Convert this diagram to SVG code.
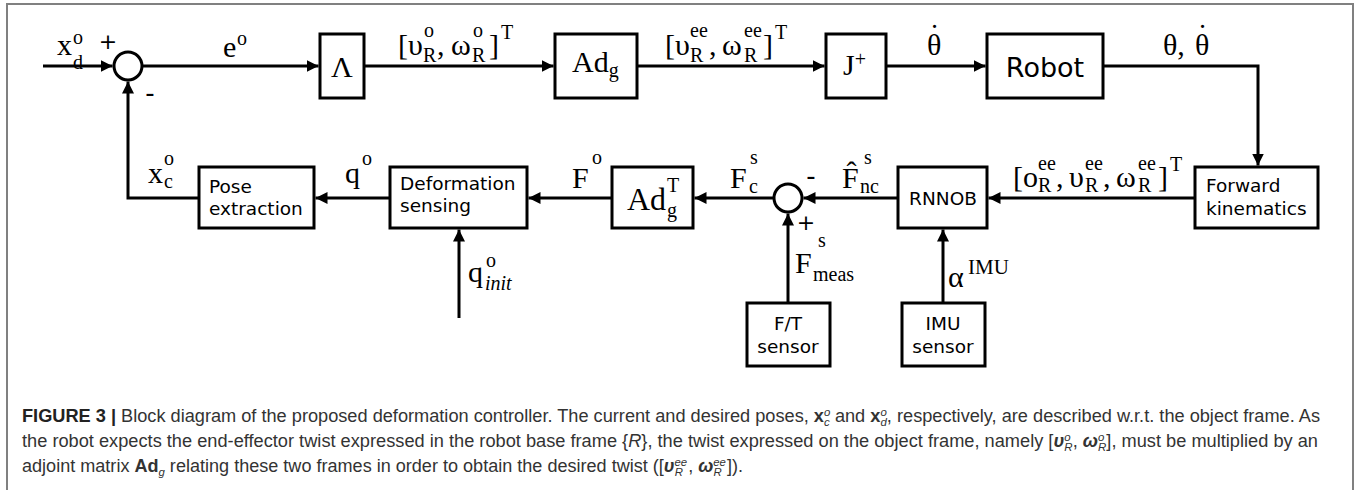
<svg xmlns="http://www.w3.org/2000/svg" width="1362" height="490" viewBox="0 0 1362 490">
<style>
.ln{stroke:#000;stroke-width:3;fill:none}
.bx{fill:#fff;stroke:#000;stroke-width:3}
.m{font-family:"Liberation Serif","DejaVu Serif",serif;font-size:30px;fill:#000}
.s{font-size:20px}
.mb{font-size:30px}
.t{font-family:"DejaVu Sans","Liberation Sans",sans-serif;font-size:18.5px;fill:#000}
.tb{font-size:27px}
.sg{font-family:"DejaVu Sans","Liberation Sans",sans-serif;font-size:22px;fill:#000}
.mn{font-size:26px}
.cap{font-family:"Liberation Sans",Arial,sans-serif;font-size:17.5px;fill:#333}
.cs{font-size:11px;font-style:italic}
</style>
<defs>
<marker id="ah" markerWidth="12" markerHeight="12" refX="12" refY="6" orient="auto" markerUnits="userSpaceOnUse"><path d="M0,0 L12,6 L0,12 z" fill="#000"/></marker>
</defs>
<rect width="1362" height="490" fill="#fff"/>
<path d="M7,490 V4 H1353 V490" fill="none" stroke="#808080" stroke-width="2"/>

<g id="connectors" class="ln" marker-end="url(#ah)">
<path d="M43,66 H112.5"/>
<path d="M142,66 H318.5"/>
<path d="M364,66 H553.5"/>
<path d="M637,66 H824.5"/>
<path d="M886,66 H985.5"/>
<path d="M1103,66 H1258 V165.5"/>
<path d="M1195,198 H988.5"/>
<path d="M898,198 H803.5"/>
<path d="M774,198 H694.5"/>
<path d="M612,198 H528.5"/>
<path d="M390,198 H315.5"/>
<path d="M199,198 H128 V81.5"/>
<path d="M459,318 V229.5"/>
<path d="M788,303 V213.5"/>
<path d="M943,303 V229.5"/>
</g>

<g id="sum1"><circle cx="128" cy="66" r="14" class="bx"/></g>
<g id="sum2"><circle cx="788" cy="198" r="14" class="bx"/></g>

<g id="lambda"><rect x="320" y="34" width="44" height="64" class="bx"/><text class="m mb" x="342" y="77" text-anchor="middle">Λ</text></g>
<g id="adg"><rect x="555" y="34" width="82" height="64" class="bx"/><text class="m mb" x="572" y="72">Ad<tspan class="s" dy="5">g</tspan></text></g>
<g id="jplus"><rect x="826" y="34" width="60" height="64" class="bx"/><text class="m mb" x="843" y="75">J<tspan class="s" dy="-9">+</tspan></text></g>
<g id="robot"><rect x="987" y="34" width="116" height="64" class="bx"/><text class="t tb" x="1045" y="77" text-anchor="middle">Robot</text></g>
<g id="fk"><rect x="1195" y="167" width="123" height="61" class="bx"/><text class="t" x="1206" y="192">Forward</text><text class="t" x="1206" y="215">kinematics</text></g>
<g id="rnnob"><rect x="898" y="167" width="89" height="61" class="bx"/><text class="t" x="943" y="205" text-anchor="middle">RNNOB</text></g>
<g id="adgT"><rect x="612" y="167" width="81" height="61" class="bx"/><text class="m" style="font-size:32px" x="627" y="210">Ad</text><text class="m s" x="667" y="217">g</text><text class="m s" x="667" y="192">T</text></g>
<g id="deform"><rect x="390" y="167" width="137" height="61" class="bx"/><text class="t" x="400" y="190">Deformation</text><text class="t" x="400" y="212">sensing</text></g>
<g id="pose"><rect x="199" y="167" width="115" height="61" class="bx"/><text class="t" x="209" y="193">Pose</text><text class="t" x="209" y="215">extraction</text></g>
<g id="ft"><rect x="747" y="303" width="83" height="63" class="bx"/><text class="t" x="788" y="330" text-anchor="middle">F/T</text><text class="t" x="788" y="353" text-anchor="middle">sensor</text></g>
<g id="imu"><rect x="902" y="303" width="83" height="63" class="bx"/><text class="t" x="943" y="330" text-anchor="middle">IMU</text><text class="t" x="943" y="353" text-anchor="middle">sensor</text></g>

<g id="labels">
<text class="m"><tspan x="57" y="55">x</tspan><tspan class="s" x="73" y="44">o</tspan><tspan class="s" x="73" y="69">d</tspan></text>
<text class="sg" x="108" y="49" text-anchor="middle">+</text>
<text class="sg mn" x="150" y="102" text-anchor="middle">-</text>
<text class="m"><tspan x="223" y="57">e</tspan><tspan class="s" x="237" y="45">o</tspan></text>
<text class="m"><tspan x="398" y="55">[υ</tspan><tspan class="s" x="424" y="37">o</tspan><tspan class="s" x="423" y="62">R</tspan><tspan x="437" y="55">,</tspan><tspan x="451" y="55">ω</tspan><tspan class="s" x="473" y="37">o</tspan><tspan class="s" x="472" y="62">R</tspan><tspan x="489" y="55">]</tspan><tspan class="s" x="501" y="39">T</tspan></text>
<text class="m"><tspan x="665" y="55">[υ</tspan><tspan class="s" x="690" y="37">ee</tspan><tspan class="s" x="690" y="62">R</tspan><tspan x="709" y="55">,</tspan><tspan x="722" y="55">ω</tspan><tspan class="s" x="744" y="37">ee</tspan><tspan class="s" x="744" y="62">R</tspan><tspan x="763" y="55">]</tspan><tspan class="s" x="775" y="39">T</tspan></text>
<text class="m" x="927" y="55">θ</text>
<text class="m" x="934.5" y="45" text-anchor="middle">˙</text>
<text class="m"><tspan x="1163" y="55">θ,</tspan><tspan x="1195" y="55">θ</tspan></text>
<text class="m" x="1202.5" y="45" text-anchor="middle">˙</text>
<text class="m"><tspan x="148" y="183">x</tspan><tspan class="s" x="164" y="165">o</tspan><tspan class="s" x="164" y="188">c</tspan></text>
<text class="m"><tspan x="345" y="183">q</tspan><tspan class="s" x="362" y="165">o</tspan></text>
<text class="m"><tspan x="572" y="188">F</tspan><tspan class="s" x="592" y="164">o</tspan></text>
<text class="m"><tspan x="730" y="188">F</tspan><tspan class="s" x="750" y="164">s</tspan><tspan class="s" x="749" y="193">c</tspan></text>
<text class="sg mn" x="811" y="185" text-anchor="middle">-</text>
<text class="sg" x="806" y="230" text-anchor="middle">+</text>
<text class="m"><tspan x="842" y="188">F&#x302;</tspan><tspan class="s" x="864" y="164">s</tspan><tspan class="s" x="860" y="193">nc</tspan></text>
<text class="m"><tspan x="1013" y="187">[o</tspan><tspan class="s" x="1038" y="170">ee</tspan><tspan class="s" x="1038" y="192">R</tspan><tspan x="1056" y="187">,</tspan><tspan x="1069" y="187">υ</tspan><tspan class="s" x="1085" y="170">ee</tspan><tspan class="s" x="1085" y="192">R</tspan><tspan x="1103" y="187">,</tspan><tspan x="1116" y="187">ω</tspan><tspan class="s" x="1138" y="170">ee</tspan><tspan class="s" x="1138" y="192">R</tspan><tspan x="1158" y="187">]</tspan><tspan class="s" x="1170" y="171">T</tspan></text>
<text class="m"><tspan x="468" y="282">q</tspan><tspan class="s" x="486" y="267">o</tspan><tspan class="s" x="485" y="290" font-style="italic">init</tspan></text>
<text class="m"><tspan x="795" y="273">F</tspan><tspan class="s" x="818" y="247">s</tspan><tspan class="s" x="813" y="281">meas</tspan></text>
<text class="m"><tspan x="948" y="287">α</tspan><tspan class="s" style="font-size:21px" x="968" y="274">IMU</tspan></text>
</g>

<g id="caption">
<text class="cap" x="22" y="422" textLength="1298" lengthAdjust="spacingAndGlyphs"><tspan font-weight="bold" fill="#222">FIGURE 3 |</tspan> Block diagram of the proposed deformation controller. The current and desired poses, <tspan font-weight="bold">x</tspan><tspan class="cs" dy="-6">o</tspan><tspan class="cs" dx="-6" dy="10">c</tspan><tspan dy="-4"> and </tspan><tspan font-weight="bold">x</tspan><tspan class="cs" dy="-6">o</tspan><tspan class="cs" dx="-6" dy="10">d</tspan><tspan dy="-4">, respectively, are described w.r.t. the object frame. As</tspan></text>
<text class="cap" x="22" y="447" textLength="1296" lengthAdjust="spacingAndGlyphs">the robot expects the end-effector twist expressed in the robot base frame {<tspan font-style="italic">R</tspan>}, the twist expressed on the object frame, namely [<tspan font-weight="bold" font-style="italic">υ</tspan><tspan class="cs" dy="-6">o</tspan><tspan class="cs" dx="-6" dy="10">R</tspan><tspan dy="-4">, </tspan><tspan font-weight="bold" font-style="italic">ω</tspan><tspan class="cs" dy="-6">o</tspan><tspan class="cs" dx="-6" dy="10">R</tspan><tspan dy="-4">], must be multiplied by an</tspan></text>
<text class="cap" x="22" y="472" textLength="721" lengthAdjust="spacingAndGlyphs">adjoint matrix <tspan font-weight="bold">Ad</tspan><tspan class="cs" dy="4">g</tspan><tspan dy="-4"> relating these two frames in order to obtain the desired twist ([</tspan><tspan font-weight="bold" font-style="italic">υ</tspan><tspan class="cs" dy="-6">ee</tspan><tspan class="cs" dx="-12" dy="10">R</tspan><tspan dy="-4" dx="5">, </tspan><tspan font-weight="bold" font-style="italic">ω</tspan><tspan class="cs" dy="-6">ee</tspan><tspan class="cs" dx="-12" dy="10">R</tspan><tspan dy="-4" dx="5">]).</tspan></text>
</g>
</svg>
